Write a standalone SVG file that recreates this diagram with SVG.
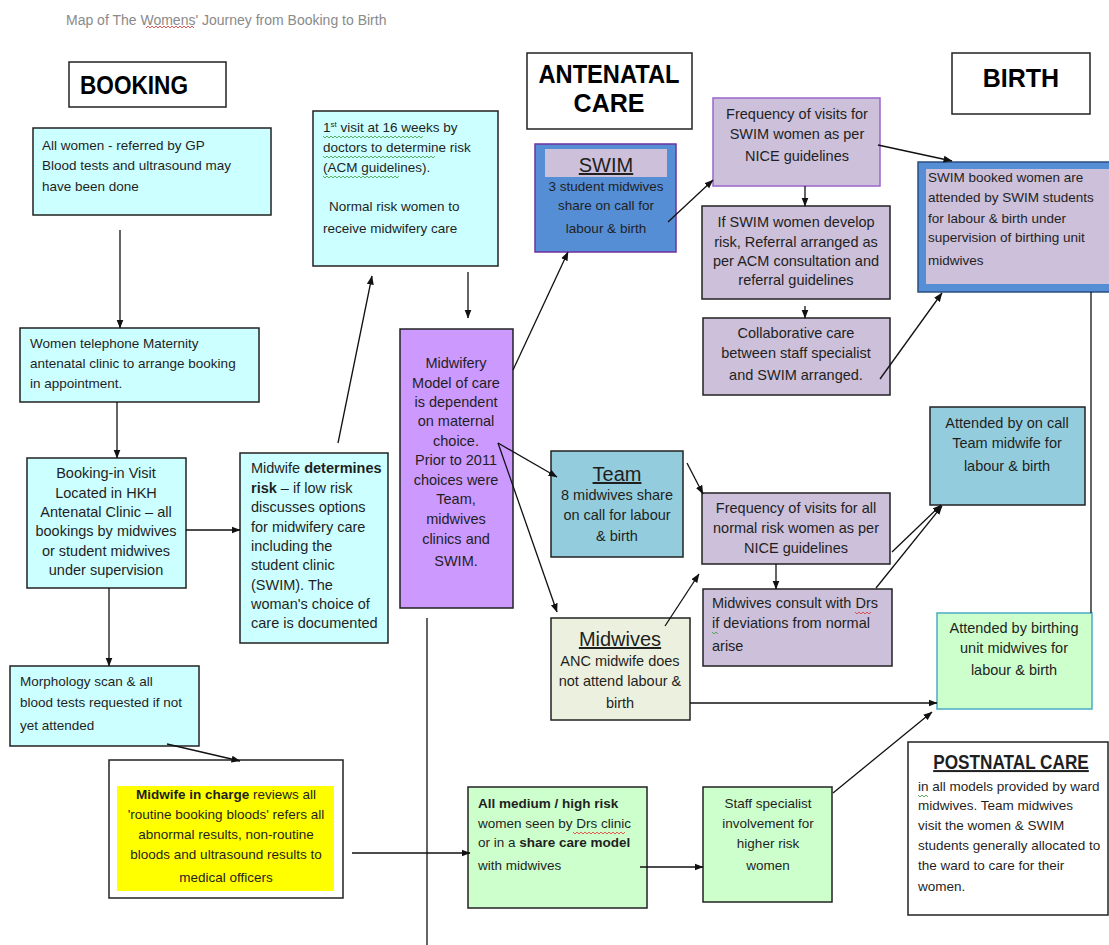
<svg xmlns="http://www.w3.org/2000/svg" width="1109" height="945" viewBox="0 0 1109 945">
<style>
text{font-family:"Liberation Sans",Arial,sans-serif;fill:#1f1f1f;font-size:13.5px}
.c{text-anchor:middle}
.b{font-weight:bold}
.hd{font-weight:bold;font-size:25px;fill:#000}
.sub{font-size:20px;text-decoration:underline}
.m{font-size:14.5px}
.box{stroke:#222;stroke-width:1.5}
.cy{fill:#CCFFFF}
.li{fill:#CCC0DA}
.wh{fill:#fff}
.con line{stroke:#111;stroke-width:1.3;marker-end:url(#ah)}
.con line.n{marker-end:none}
.sp{fill:none;stroke-width:0.8}
</style>
<defs>
<marker id="ah" markerWidth="9" markerHeight="8" refX="8.5" refY="4" orient="auto" markerUnits="userSpaceOnUse">
<path d="M0,0.5 L9,4 L0,7.5 z" fill="#111"/>
</marker>
</defs>
<rect width="1109" height="945" fill="#fff"/>
<text x="66" y="25" style="fill:#8a8a8a;font-size:14px">Map of The Womens' Journey from Booking to Birth</text>
<path class="sp" stroke="#e03030" d="M146,28 l2,-2 l2,2 l2,-2 l2,2 l2,-2 l2,2 l2,-2 l2,2 l2,-2 l2,2 l2,-2 l2,2 l2,-2 l2,2 l2,-2 l2,2 l2,-2 l2,2 l2,-2 l2,2 l2,-2 l2,2 l2,-2 l2,2"/>

<g id="hdr-booking"><rect class="box wh" x="69" y="62" width="157" height="45"/><text class="hd" x="80" y="94" textLength="108" lengthAdjust="spacingAndGlyphs">BOOKING</text></g>
<g id="hdr-antenatal"><rect class="box wh" x="527" y="53" width="165" height="76"/><text class="hd c" x="609" y="83" textLength="141" lengthAdjust="spacingAndGlyphs">ANTENATAL</text><text class="hd c" x="609" y="112">CARE</text></g>
<g id="hdr-birth"><rect class="box wh" x="952" y="53" width="138" height="61"/><text class="hd c" x="1021" y="87">BIRTH</text></g>

<g id="n-allwomen"><rect class="box cy" x="33" y="128" width="238" height="87"/>
<text x="42" y="150">All women - referred by GP</text><text x="42" y="170">Blood tests and ultrasound may</text><text x="42" y="191">have been done</text></g>

<g id="n-telephone"><rect class="box cy" x="20" y="328" width="239" height="74"/>
<text x="30" y="348">Women telephone Maternity</text><text x="30" y="368">antenatal clinic to arrange booking</text><text x="30" y="388">in appointment.</text></g>

<g id="n-bookingvisit"><rect class="box cy" x="27" y="458" width="159" height="130"/>
<text class="c m" x="106" y="478">Booking-in Visit</text><text class="c m" x="106" y="498">Located in HKH</text><text class="c m" x="106" y="517">Antenatal Clinic – all</text><text class="c m" x="106" y="536">bookings by midwives</text><text class="c m" x="106" y="556">or student midwives</text><text class="c m" x="106" y="575">under supervision</text></g>

<g id="n-determines"><rect class="box cy" x="240" y="453" width="148" height="190"/>
<text class="m" x="251" y="473">Midwife <tspan class="b">determines</tspan></text><text class="m" x="251" y="493"><tspan class="b">risk</tspan> – if low risk</text><text class="m" x="251" y="512">discusses options</text><text class="m" x="251" y="532">for midwifery care</text><text class="m" x="251" y="551">including the</text><text class="m" x="251" y="570">student clinic</text><text class="m" x="251" y="590">(SWIM). The</text><text class="m" x="251" y="609">woman's choice of</text><text class="m" x="251" y="628">care is documented</text></g>

<g id="n-morphology"><rect class="box cy" x="10" y="666" width="189" height="80"/>
<text x="20" y="686">Morphology scan &amp; all</text><text x="20" y="707">blood tests requested if not</text><text x="20" y="730">yet attended</text></g>

<g id="n-incharge"><rect class="box wh" x="109" y="760" width="234" height="138"/><rect x="117" y="786" width="217" height="105" fill="#FFFF00"/>
<text class="c" x="226" y="799"><tspan class="b">Midwife in charge</tspan> reviews all</text><text class="c" x="226" y="819">'routine booking bloods' refers all</text><text class="c" x="226" y="839">abnormal results, non-routine</text><text class="c" x="226" y="859">bloods and ultrasound results to</text><text class="c" x="226" y="882">medical officers</text></g>

<g id="n-firstvisit"><rect class="box cy" x="313" y="111" width="185" height="155"/>
<text x="323" y="132">1<tspan font-size="8" dy="-5">st</tspan><tspan dy="5"> visit at 16 weeks by</tspan></text><text x="323" y="152">doctors to determine risk</text><text x="323" y="172">(ACM guidelines).</text><text x="329" y="211">Normal risk  women to</text><text x="323" y="233">receive midwifery care</text>
<path class="sp" stroke="#3a9a3a" d="M323,136 l2,2 l2,-2 l2,2 l2,-2 l2,2 l2,-2 l2,2 l2,-2 l2,2 l2,-2 l2,2 l2,-2 l2,2 l2,-2 l2,2 l2,-2 l2,2 l2,-2 l2,2 l2,-2 l2,2 l2,-2 l2,2 l2,-2 l2,2 l2,-2 l2,2 l2,-2 l2,2 l2,-2 l2,2 l2,-2 l2,2 l2,-2 l2,2 l2,-2 l2,2 l2,-2 l2,2 l2,-2 l2,2 l2,-2 l2,2 l2,-2 l2,2 l2,-2 l2,2 l2,-2 l2,2 l2,-2 M323,156 l2,2 l2,-2 l2,2 l2,-2 l2,2 l2,-2 l2,2 l2,-2 l2,2 l2,-2 l2,2 l2,-2 l2,2 l2,-2 l2,2 l2,-2 l2,2 l2,-2 l2,2 l2,-2 l2,2 l2,-2 l2,2 l2,-2 l2,2 l2,-2 l2,2 l2,-2 l2,2 l2,-2 l2,2 l2,-2 l2,2 l2,-2 l2,2 l2,-2 l2,2 l2,-2 l2,2 l2,-2 l2,2 l2,-2 l2,2 l2,-2 l2,2 l2,-2 l2,2 l2,-2 l2,2 l2,-2 l2,2 l2,-2 l2,2 l2,-2 l2,2 l2,-2 M323,176 l2,2 l2,-2 l2,2 l2,-2 l2,2 l2,-2 l2,2 l2,-2 l2,2 l2,-2 l2,2 l2,-2 l2,2 l2,-2 l2,2 l2,-2 l2,2 l2,-2 l2,2 l2,-2 l2,2 l2,-2 l2,2 l2,-2 l2,2 l2,-2 l2,2 l2,-2 l2,2 l2,-2 l2,2 l2,-2 l2,2 l2,-2 l2,2 l2,-2 l2,2 l2,-2"/></g>

<g id="n-model"><rect class="box" fill="#CC99FF" x="400" y="329" width="113" height="279"/>
<text class="c m" x="456" y="368">Midwifery</text><text class="c m" x="456" y="388">Model of care</text><text class="c m" x="456" y="407">is dependent</text><text class="c m" x="456" y="426">on maternal</text><text class="c m" x="456" y="446">choice.</text><text class="c m" x="456" y="465">Prior to 2011</text><text class="c m" x="456" y="485">choices were</text><text class="c m" x="456" y="504">Team,</text><text class="c m" x="456" y="524">midwives</text><text class="c m" x="456" y="544">clinics and</text><text class="c m" x="456" y="566">SWIM.</text></g>

<g id="n-swim"><rect x="535" y="144" width="141" height="108" fill="#558ED5" stroke="#7030A0" stroke-width="1.5"/><rect x="545" y="149" width="122" height="28" fill="#CCC0DA"/>
<text class="c sub" x="606" y="172">SWIM</text><text class="c" x="606" y="191">3 student midwives</text><text class="c" x="606" y="210">share on call for</text><text class="c" x="606" y="233">labour &amp; birth</text></g>

<g id="n-freqswim"><rect class="li" stroke="#9966CC" stroke-width="1.5" x="713" y="98" width="167" height="88"/>
<text class="c m" x="797" y="119">Frequency of visits for</text><text class="c m" x="797" y="139">SWIM women as per</text><text class="c m" x="797" y="161">NICE guidelines</text></g>

<g id="n-ifswim"><rect class="box li" x="702" y="206" width="188" height="93"/>
<text class="c m" x="796" y="227">If SWIM women develop</text><text class="c m" x="796" y="247">risk, Referral arranged as</text><text class="c m" x="796" y="266">per ACM consultation and</text><text class="c m" x="796" y="285">referral guidelines</text></g>

<g id="n-collab"><rect class="box li" x="703" y="318" width="187" height="77"/>
<text class="c m" x="796" y="338">Collaborative care</text><text class="c m" x="796" y="358">between staff specialist</text><text class="c m" x="796" y="380">and SWIM arranged.</text></g>

<g id="n-swimbooked"><rect x="918" y="162" width="195" height="130" fill="#558ED5" stroke="#2a4f80" stroke-width="1.5"/><rect x="926" y="169" width="190" height="115" fill="#CCC0DA"/>
<text x="928" y="182">SWIM booked women are</text><text x="928" y="202">attended by SWIM students</text><text x="928" y="223">for labour &amp; birth under</text><text x="928" y="242">supervision of birthing unit</text><text x="928" y="265">midwives</text></g>

<g id="n-team"><rect class="box" fill="#93CDDD" x="551" y="451" width="132" height="106"/>
<text class="c sub" x="617" y="481">Team</text><text class="c m" x="617" y="500">8 midwives share</text><text class="c m" x="617" y="520">on call for labour</text><text class="c m" x="617" y="541">&amp; birth</text></g>

<g id="n-freqall"><rect class="box li" x="702" y="493" width="188" height="71"/>
<text class="c m" x="796" y="513">Frequency of visits for all</text><text class="c m" x="796" y="533">normal risk women as per</text><text class="c m" x="796" y="553">NICE guidelines</text></g>

<g id="n-teamattended"><rect class="box" fill="#93CDDD" x="930" y="407" width="155" height="98"/>
<text class="c m" x="1007" y="428">Attended by on call</text><text class="c m" x="1007" y="448">Team midwife for</text><text class="c m" x="1007" y="471">labour &amp; birth</text></g>

<g id="n-consult"><rect class="box li" x="703" y="589" width="189" height="77"/>
<text class="m" x="712" y="608">Midwives consult with Drs</text><text class="m" x="712" y="628">if deviations from normal</text><text class="m" x="712" y="651">arise</text>
<path class="sp" stroke="#e03030" d="M855,612 l2,2 l2,-2 l2,2 l2,-2 l2,2 l2,-2 l2,2 l2,-2"/><path class="sp" stroke="#3a9a3a" d="M712,632 l2,2 l2,-2 l2,2"/></g>

<g id="n-midwives"><rect class="box" fill="#EBF1DE" x="551" y="618" width="139" height="102"/>
<text class="c sub" x="620" y="646">Midwives</text><text class="c m" x="620" y="666">ANC midwife does</text><text class="c m" x="620" y="686">not attend labour &amp;</text><text class="c m" x="620" y="708">birth</text></g>

<g id="n-birthing"><rect fill="#CCFFCC" stroke="#4BACC6" stroke-width="1.5" x="937" y="613" width="155" height="96"/>
<text class="c m" x="1014" y="633">Attended by birthing</text><text class="c m" x="1014" y="653">unit midwives for</text><text class="c m" x="1014" y="675">labour &amp; birth</text></g>

<g id="n-medium"><rect class="box" fill="#CCFFCC" x="468" y="787" width="179" height="121"/>
<text x="478" y="808" class="b">All medium / high risk</text><text x="478" y="828">women seen by Drs clinic</text><text x="478" y="847">or in a <tspan class="b">share care model</tspan></text><text x="478" y="870">with midwives</text>
<path class="sp" stroke="#e03030" d="M573,832 l2,2 l2,-2 l2,2 l2,-2 l2,2 l2,-2 l2,2 l2,-2 l2,2 l2,-2 l2,2 l2,-2 l2,2 l2,-2 l2,2 l2,-2 l2,2 l2,-2 l2,2 l2,-2 l2,2 l2,-2 l2,2 l2,-2 l2,2 l2,-2"/></g>

<g id="n-staff"><rect class="box" fill="#CCFFCC" x="703" y="787" width="129" height="115"/>
<text class="c" x="768" y="808">Staff specialist</text><text class="c" x="768" y="828">involvement for</text><text class="c" x="768" y="848">higher risk</text><text class="c" x="768" y="870">women</text></g>

<g id="n-postnatal"><rect class="box wh" x="908" y="742" width="200" height="173"/>
<text class="c b" x="0" y="0" transform="translate(1011,769) scale(0.86,1)" style="font-size:20px;text-decoration:underline">POSTNATAL CARE</text>
<text x="918" y="791">in all models provided by ward</text><text x="918" y="810">midwives. Team midwives</text><text x="918" y="830">visit the women &amp; SWIM</text><text x="918" y="850">students generally allocated to</text><text x="918" y="870">the ward to care for their</text><text x="918" y="891">women.</text>
<path class="sp" stroke="#3a9a3a" d="M918,795 l2,2 l2,-2 l2,2 l2,-2 l2,2"/></g>

<g id="connectors" class="con">
<line x1="120" y1="230" x2="120" y2="328"/>
<line x1="117" y1="402" x2="117" y2="458"/>
<line x1="186" y1="530" x2="240" y2="530"/>
<line x1="109" y1="588" x2="109" y2="666"/>
<line x1="167" y1="744" x2="240" y2="761"/>
<line x1="338" y1="443" x2="372" y2="276"/>
<line x1="468" y1="272" x2="468" y2="318"/>
<line x1="513" y1="370" x2="568" y2="252"/>
<line x1="498" y1="443" x2="557" y2="477"/>
<line x1="498" y1="443" x2="557" y2="612"/>
<line x1="668" y1="222" x2="713" y2="180"/>
<line x1="878" y1="145" x2="952" y2="161"/>
<line x1="805" y1="186" x2="805" y2="206"/>
<line x1="805" y1="306" x2="805" y2="318"/>
<line x1="880" y1="379" x2="942" y2="293"/>
<line class="n" x1="1091" y1="292" x2="1091" y2="613"/>
<line x1="687" y1="463" x2="703" y2="494"/>
<line x1="776" y1="564" x2="776" y2="589"/>
<line x1="892" y1="552" x2="941" y2="505"/>
<line x1="876" y1="588" x2="942" y2="506"/>
<line x1="665" y1="626" x2="699" y2="574"/>
<line x1="690" y1="703" x2="937" y2="703"/>
<line x1="833" y1="793" x2="932" y2="712"/>
<line x1="352" y1="853" x2="470" y2="853"/>
<line x1="640" y1="867" x2="703" y2="867"/>
<line class="n" x1="427" y1="618" x2="427" y2="945"/>
</g>
</svg>
